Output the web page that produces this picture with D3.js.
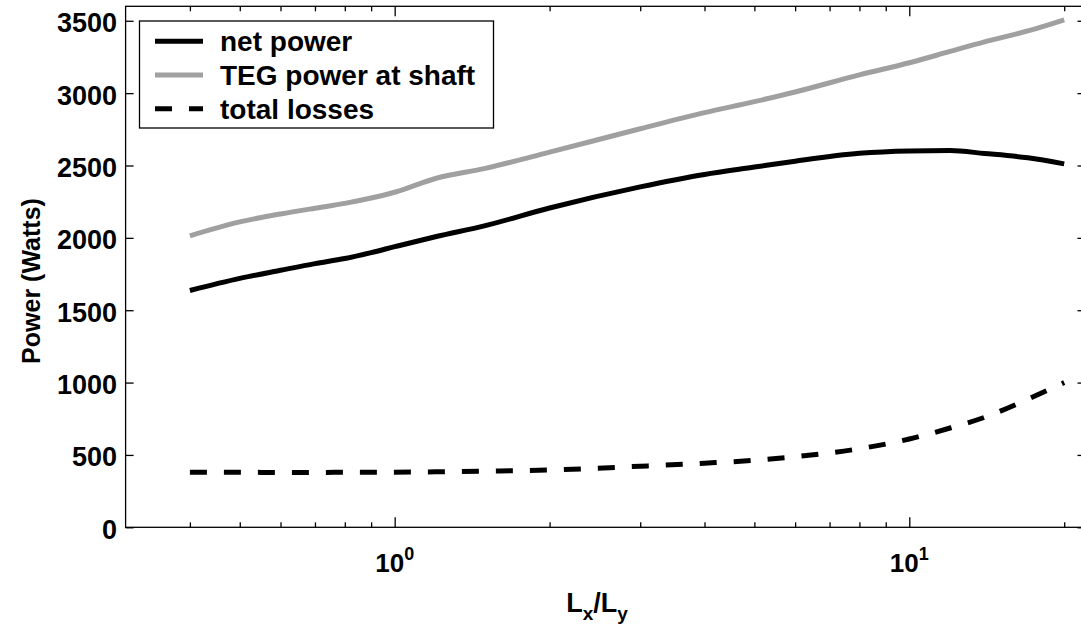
<!DOCTYPE html>
<html>
<head>
<meta charset="utf-8">
<script src="https://cdn.jsdelivr.net/npm/d3@7"></script>
<style>
  html, body { margin: 0; padding: 0; background: #fff; }
  svg { display: block; }
  text { font-family: "Liberation Sans", Arial, Helvetica, sans-serif; font-weight: bold; fill: #000; }
</style>
</head>
<body>
<svg id="chart" width="1081" height="628"></svg>
<script>
// Aspect ratio Lx/Ly (log scale)
const ratio = [0.4, 0.5, 0.6, 0.7, 0.8, 0.9, 1.0, 1.2, 1.5, 2, 3, 4, 5, 6, 8, 10, 12, 14, 17, 20];
// Power figures in Watts
const netPower   = [1636, 1720, 1776, 1822, 1857, 1898, 1939, 2008, 2085, 2206, 2352, 2438, 2489, 2530, 2584, 2600, 2603, 2583, 2553, 2511];
const tegPower   = [2014, 2110, 2165, 2205, 2238, 2275, 2315, 2410, 2480, 2592, 2754, 2865, 2941, 3008, 3126, 3210, 3288, 3354, 3430, 3507];
const totalLoss  = [380, 380, 379, 379, 380, 380, 381, 383, 388, 396, 422, 443, 463, 488, 543, 610, 686, 760, 885, 1000];

const seriesNames = ["net power", "TEG power at shaft", "total losses"];
const yTicks = [0, 500, 1000, 1500, 2000, 2500, 3000, 3500];
const xMajor = [1, 10];
const xMajorExp = ["0", "1"];
const xMinor = [0.4, 0.5, 0.6, 0.7, 0.8, 0.9, 2, 3, 4, 5, 6, 7, 8, 9, 20];

const svg = d3.select("#chart");
const L = 125.6, R = 1085.5, T = 6.3, B = 527.3;

const x = d3.scaleLog().domain([0.3, 22]).range([L, R]);
const y = d3.scaleLinear().domain([0, 3600]).range([B, T]);

const styles = [
  { color: "#000", dash: null },
  { color: "#a0a0a0", dash: null },
  { color: "#000", dash: "17,17" }
];
const series = [netPower, tegPower, totalLoss];

// inward ticks on all four sides
const axes = svg.append("g").attr("class", "axes");
function tickAxis(axis, transform) {
  const g = axes.append("g").attr("transform", transform).call(axis);
  g.select(".domain").remove();
  g.selectAll(".tick line").attr("stroke", "#000").attr("stroke-width", 1.3);
  g.selectAll(".tick text").remove();
  return g;
}
tickAxis(d3.axisBottom(x).tickValues(xMajor).tickSize(-10), `translate(0,${B})`);
tickAxis(d3.axisBottom(x).tickValues(xMinor).tickSize(-5), `translate(0,${B})`);
tickAxis(d3.axisTop(x).tickValues(xMajor).tickSize(-10), `translate(0,${T})`);
tickAxis(d3.axisTop(x).tickValues(xMinor).tickSize(-5), `translate(0,${T})`);
tickAxis(d3.axisLeft(y).tickValues(yTicks).tickSize(-8), `translate(${L},0)`);
tickAxis(d3.axisRight(y).tickValues(yTicks).tickSize(-8), `translate(${R},0)`);

// frame
svg.append("rect")
  .attr("x", L).attr("y", T).attr("width", R - L).attr("height", B - T)
  .attr("fill", "none").attr("stroke", "#000").attr("stroke-width", 1.3);

// y tick labels
svg.append("g").selectAll("text").data(yTicks).join("text")
  .attr("x", 117).attr("y", d => y(d) + 11.5)
  .attr("text-anchor", "end")
  .style("font-size", "27px")
  .text(d => d);

// x tick labels as powers of ten
const xl = svg.append("g").selectAll("text").data(xMajor).join("text")
  .attr("x", d => x(d)).attr("y", 571.7)
  .attr("text-anchor", "middle")
  .style("font-size", "26px");
xl.append("tspan").text("10");
xl.append("tspan").attr("dy", -12).style("font-size", "18px").text((d, i) => xMajorExp[i]);

// axis titles
const xt = svg.append("text")
  .attr("x", 597).attr("y", 612)
  .attr("text-anchor", "middle")
  .style("font-size", "27px");
xt.append("tspan").text("L");
xt.append("tspan").attr("dy", 8).style("font-size", "19px").text("x");
xt.append("tspan").attr("dy", -8).text("/L");
xt.append("tspan").attr("dy", 8).style("font-size", "19px").text("y");

svg.append("text")
  .attr("transform", "translate(40,281) rotate(-90)")
  .attr("text-anchor", "middle")
  .style("font-size", "25px")
  .text("Power (Watts)");

// data curves
const line = d3.line()
  .x((d, i) => x(ratio[i]))
  .y(d => y(d))
  .curve(d3.curveMonotoneX);

svg.append("g").selectAll("path").data(series).join("path")
  .attr("d", line)
  .attr("fill", "none")
  .attr("stroke", (d, i) => styles[i].color)
  .attr("stroke-width", 5)
  .attr("stroke-dasharray", (d, i) => styles[i].dash);

// legend
const lg = svg.append("g");
lg.append("rect")
  .attr("x", 139.5).attr("y", 21).attr("width", 354).attr("height", 107)
  .attr("fill", "#fff").attr("stroke", "#000").attr("stroke-width", 1.3);
const rows = lg.selectAll("g.row").data(seriesNames).join("g")
  .attr("class", "row")
  .attr("transform", (d, i) => `translate(0,${41.3 + i * 33.7})`);
rows.append("line")
  .attr("x1", 155).attr("x2", 203).attr("y1", 0).attr("y2", 0)
  .attr("stroke", (d, i) => styles[i].color)
  .attr("stroke-width", 5)
  .attr("stroke-dasharray", (d, i) => styles[i].dash);
rows.append("text")
  .attr("x", 220).attr("y", 10)
  .style("font-size", "28px")
  .text(d => d);
</script>
</body>
</html>
